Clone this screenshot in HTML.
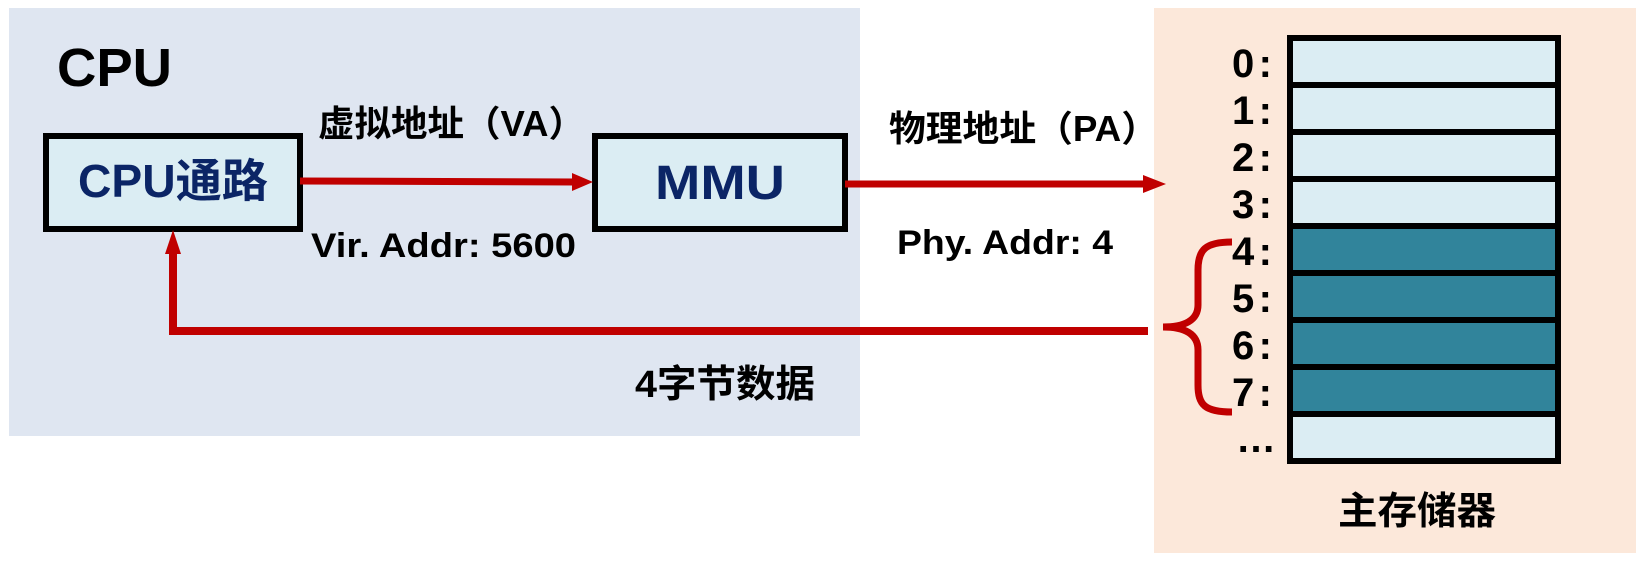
<!DOCTYPE html>
<html><head><meta charset="utf-8"><style>
html,body{margin:0;padding:0;background:#fff;}
svg{display:block;}
text{font-family:"Liberation Sans","Noto Sans CJK SC",sans-serif;font-weight:bold;}
</style></head><body>
<svg width="1636" height="566" viewBox="0 0 1636 566" xmlns="http://www.w3.org/2000/svg">
<rect x="9" y="8" width="851" height="428" fill="#dfe6f1"/>
<rect x="1154" y="8" width="482" height="545" fill="#fce8da"/>
<text x="57" y="86" font-size="54" fill="#000" textLength="115" lengthAdjust="spacingAndGlyphs">CPU</text>
<rect x="46" y="136" width="254" height="93" fill="#dbedf3" stroke="#000" stroke-width="6"/>
<text x="173" y="197" font-size="46" fill="#0b2566" text-anchor="middle" textLength="190" lengthAdjust="spacingAndGlyphs">CPU通路</text>
<rect x="595" y="136" width="250" height="93" fill="#dbedf3" stroke="#000" stroke-width="6"/>
<text x="720" y="199" font-size="48" fill="#0b2566" text-anchor="middle" textLength="130" lengthAdjust="spacingAndGlyphs">MMU</text>
<line x1="300" y1="181" x2="575" y2="182" stroke="#c00000" stroke-width="7"/>
<polygon points="572,173 593,182 572,191" fill="#c00000"/>
<text x="318" y="136" font-size="36" fill="#000" textLength="267" lengthAdjust="spacingAndGlyphs">虚拟地址（VA）</text>
<text x="311" y="257" font-size="34" fill="#000" textLength="265" lengthAdjust="spacingAndGlyphs">Vir. Addr: 5600</text>
<line x1="845" y1="184" x2="1148" y2="184" stroke="#c00000" stroke-width="7"/>
<polygon points="1143,175 1166,184 1143,193" fill="#c00000"/>
<text x="889" y="141" font-size="36" fill="#000" textLength="269" lengthAdjust="spacingAndGlyphs">物理地址（PA）</text>
<text x="897" y="254" font-size="34" fill="#000" textLength="216" lengthAdjust="spacingAndGlyphs">Phy. Addr: 4</text>
<polyline points="1148,331 173,331 173,250" fill="none" stroke="#c00000" stroke-width="8"/>
<polygon points="165,254 173,230 181,254" fill="#c00000"/>
<text x="635" y="397" font-size="38" fill="#000" textLength="180" lengthAdjust="spacingAndGlyphs">4字节数据</text>
<path d="M1232,242 C1205,242 1198,250 1198,270 L1198,305 C1198,320 1185,327 1163,327 C1185,327 1198,334 1198,350 L1198,385 C1198,405 1205,412 1232,412" fill="none" stroke="#c00000" stroke-width="7"/>
<g stroke="#000" stroke-width="6">
<rect x="1290" y="38" width="268" height="47" fill="#dbedf3"/>
<rect x="1290" y="85" width="268" height="47" fill="#dbedf3"/>
<rect x="1290" y="132" width="268" height="47" fill="#dbedf3"/>
<rect x="1290" y="179" width="268" height="47" fill="#dbedf3"/>
<rect x="1290" y="226" width="268" height="47" fill="#31849b"/>
<rect x="1290" y="273" width="268" height="47" fill="#31849b"/>
<rect x="1290" y="320" width="268" height="47" fill="#31849b"/>
<rect x="1290" y="367" width="268" height="47" fill="#31849b"/>
<rect x="1290" y="414" width="268" height="47" fill="#dbedf3"/>
</g>
<g font-size="40" fill="#000">
<text x="1232" y="77" textLength="40" lengthAdjust="spacing">0:</text>
<text x="1232" y="124" textLength="40" lengthAdjust="spacing">1:</text>
<text x="1232" y="171" textLength="40" lengthAdjust="spacing">2:</text>
<text x="1232" y="218" textLength="40" lengthAdjust="spacing">3:</text>
<text x="1232" y="265" textLength="40" lengthAdjust="spacing">4:</text>
<text x="1232" y="312" textLength="40" lengthAdjust="spacing">5:</text>
<text x="1232" y="359" textLength="40" lengthAdjust="spacing">6:</text>
<text x="1232" y="406" textLength="40" lengthAdjust="spacing">7:</text>
<text x="1236" y="452">…</text>
</g>
<text x="1338" y="524" font-size="38" fill="#000" textLength="158" lengthAdjust="spacingAndGlyphs">主存储器</text>
</svg>
</body></html>
